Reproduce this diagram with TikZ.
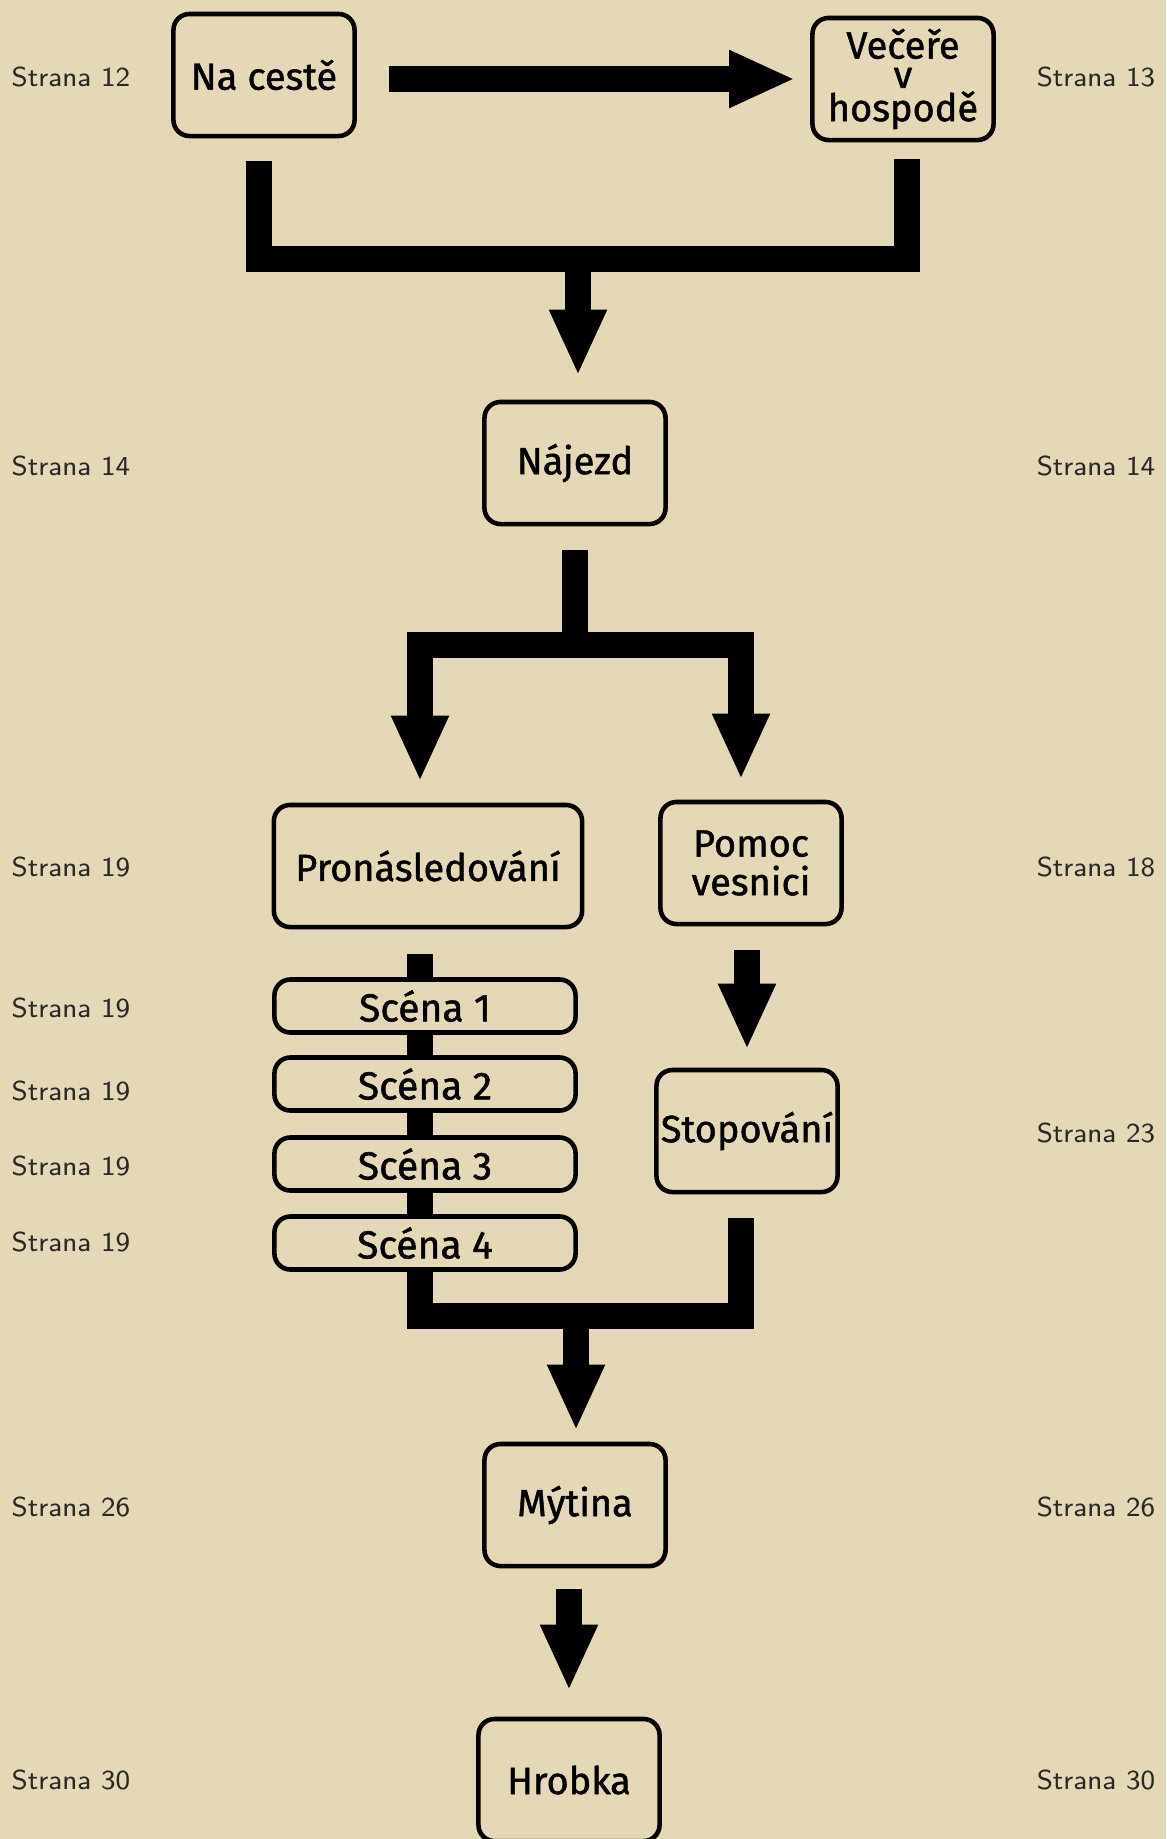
\documentclass[tikz,border=0pt]{standalone}
\usepackage{fontspec}
\usetikzlibrary{arrows.meta}
\newfontfamily\boxfont{Fira Sans}[FakeBold=1.2]
\definecolor{parchment}{RGB}{229,216,182}
\definecolor{inkgray}{RGB}{40,40,40}

\begin{document}
\begin{tikzpicture}[x=0.01cm, y=-0.01cm,
  scenario/.style={draw, line width=1.3pt, rounded corners=0.16cm, fill=parchment, minimum width=1.81cm, minimum height=1.22cm, inner sep=0pt, align=center, font=\boxfont\fontsize{10.8}{12}\selectfont},
  scenebox/.style={scenario, minimum width=3.01cm, minimum height=0.53cm, rounded corners=0.16cm, font=\boxfont\fontsize{11.1}{12}\selectfont},
  page/.style={inner sep=0pt, text=inkgray, font=\sffamily\fontsize{7.8}{9}\selectfont},
  bar/.style={line width=0.26cm, line join=miter},
  bararrow/.style={bar, -{Triangle[length=0.66cm, width=0.53cm]}}]
\fill[parchment] (0,0) rectangle (1166,1839);
\useasboundingbox (0,0) rectangle (1166,1839);

% page references
\foreach \n/\y [count=\k] in {12/77, 14/466, 19/867, 19/1008, 19/1091, 19/1166, 19/1242, 26/1507, 30/1780}{
\node[page, anchor=west] (left\k) at (11,\y) {Strana \n};
}
\foreach \n/\y [count=\k] in {13/77, 14/466, 18/867, 23/1133, 26/1507, 30/1780}{
\node[page, anchor=east] (right\k) at (1156,\y) {Strana \n};
}

% scenarios
\node[scenario] (cesta) at (264,75) {Na cestě};
\node[scenario, font=\boxfont\fontsize{10.8}{8.3}\selectfont] (vecere) at (903,79) {Večeře\\v\\hospodě};
\node[scenario] (najezd) at (575,463) {Nájezd};
\node[scenario, minimum width=3.08cm] (pron) at (428,866) {Pronásledování};
\node[scenario, font=\boxfont\fontsize{10.8}{11}\selectfont] (pomoc) at (751,863) {Pomoc\\vesnici};
\node[scenario] (stop) at (747,1131) {Stopování};
\node[scenario] (mytina) at (575,1505) {Mýtina};
\node[scenario] (hrobka) at (569,1780) {Hrobka};

\coordinate (top) at (578,259);
\coordinate (split) at (575,645);
\coordinate (merge) at (576,1316);

\draw[bararrow, shorten <=0.32cm, shorten >=0.15cm] (cesta.east |- vecere.west) -- (vecere.west);
\draw[bar] ([xshift=-0.05cm, yshift=-0.23cm]cesta.south) |- (top) -| ([xshift=0.04cm, yshift=-0.17cm]vecere.south);
\draw[bararrow, shorten >=0.24cm] (top) -- (top |- najezd.north);

\draw[bar, shorten <=0.24cm] (najezd.south) -- (split);
\draw[bararrow, shorten >=0.21cm] (split) -| ([xshift=-0.08cm]pron.north);
\draw[bararrow, shorten >=0.2cm] (split) -| ([xshift=-0.1cm]pomoc.north);
\draw[bararrow, shorten <=0.24cm, shorten >=0.18cm] (stop.north |- pomoc.south) -- (stop.north);

\draw[bar] ([xshift=-0.08cm, yshift=-0.25cm]pron.south) |- (merge) -| ([xshift=-0.06cm, yshift=-0.24cm]stop.south);
\foreach \i/\y in {1/1006, 2/1084, 3/1164, 4/1243}{
\node[scenebox] (scena\i) at (425,\y) {Scéna \i};
}

\draw[bararrow, shorten >=0.11cm] (merge) -- (merge |- mytina.north);
\draw[bararrow, shorten <=0.21cm, shorten >=0.26cm] (hrobka.north |- mytina.south) -- (hrobka.north);
\end{tikzpicture}
\end{document}
